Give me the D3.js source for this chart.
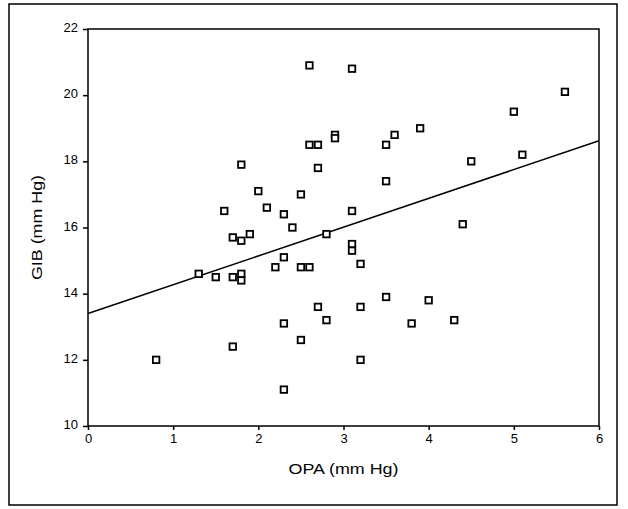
<!DOCTYPE html>
<html>
<head>
<meta charset="utf-8">
<script src="https://cdn.jsdelivr.net/npm/d3@7"></script>
<style>
    body { margin: 0; background: #fff; }
    svg text { font-family: "Liberation Sans", Arial, sans-serif; fill: #000; }
</style>
</head>
<body>
<svg id="chart" width="628" height="509"></svg>
<script>
/* Data */
var opa = [0.8, 1.3, 1.5, 1.6, 1.7, 1.7, 1.7, 1.8, 1.8, 1.8, 1.8, 1.9, 2.0, 2.1, 2.2,
           2.3, 2.3, 2.3, 2.3, 2.4, 2.5, 2.5, 2.5, 2.6, 2.6, 2.6, 2.7, 2.7, 2.7, 2.8,
           2.8, 2.9, 2.9, 3.1, 3.1, 3.1, 3.1, 3.2, 3.2, 3.2, 3.5, 3.5, 3.5, 3.6, 3.8,
           3.9, 4.0, 4.3, 4.4, 4.5, 5.0, 5.1, 5.6];
var gib = [12.0, 14.6, 14.5, 16.5, 15.7, 14.5, 12.4, 17.9, 15.6, 14.6, 14.4, 15.8, 17.1, 16.6, 14.8,
           16.4, 15.1, 13.1, 11.1, 16.0, 17.0, 14.8, 12.6, 20.9, 18.5, 14.8, 18.5, 17.8, 13.6, 15.8,
           13.2, 18.8, 18.7, 20.8, 16.5, 15.5, 15.3, 14.9, 13.6, 12.0, 18.5, 17.4, 13.9, 18.8, 13.1,
           19.0, 13.8, 13.2, 16.1, 18.0, 19.5, 18.2, 20.1];

// fitted regression line end points
var fitX = [0, 6];
var fitY = [13.4, 18.62];

var xTicks = [0, 1, 2, 3, 4, 5, 6];
var yTicks = [10, 12, 14, 16, 18, 20, 22];

var xTitle = 'OPA (mm Hg)';
var yTitle = 'GIB (mm Hg)';

/* Layout */
var svg = d3.select('#chart');
var plotLeft = 88, plotRight = 599, plotTop = 29, plotBottom = 426;

var x = d3.scaleLinear().domain([0, 6]).range([plotLeft, plotRight]);
var y = d3.scaleLinear().domain([10, 22]).range([plotBottom, plotTop]);

// outer frame
svg.append('rect')
    .attr('x', 9).attr('y', 4)
    .attr('width', 608).attr('height', 501)
    .attr('fill', 'none')
    .attr('stroke', '#000')
    .attr('stroke-width', 1.5);

// plot frame
svg.append('rect')
    .attr('x', plotLeft).attr('y', plotTop)
    .attr('width', plotRight - plotLeft).attr('height', plotBottom - plotTop)
    .attr('fill', 'none')
    .attr('stroke', '#000')
    .attr('stroke-width', 1.5);

// axes
var xAxis = svg.append('g')
    .attr('transform', 'translate(0,' + plotBottom + ')')
    .call(d3.axisBottom(x).tickValues(xTicks).tickFormat(d3.format('d')).tickSize(4).tickPadding(4));

var yAxis = svg.append('g')
    .attr('transform', 'translate(' + plotLeft + ',0)')
    .call(d3.axisLeft(y).tickValues(yTicks).tickFormat(d3.format('d')).tickSize(5).tickPadding(5));

[xAxis, yAxis].forEach(function (g) {
    g.select('.domain').remove();
    g.selectAll('.tick line').attr('stroke', '#000').attr('stroke-width', 1.5);
    g.selectAll('.tick text').attr('font-size', 13).style('font-family', '"Liberation Sans", Arial, sans-serif');
});
yAxis.selectAll('.tick text').attr('dy', '0.2em');

// regression line
svg.append('path')
    .datum(d3.zip(fitX, fitY))
    .attr('fill', 'none')
    .attr('stroke', '#000')
    .attr('stroke-width', 1.5)
    .attr('d', d3.line().x(function (d) { return x(d[0]); }).y(function (d) { return y(d[1]); }));

// points
var s = 6.5;
svg.append('g')
    .selectAll('rect')
    .data(d3.zip(opa, gib))
    .enter()
    .append('rect')
    .attr('x', function (d) { return x(d[0]) - s / 2; })
    .attr('y', function (d) { return y(d[1]) - s / 2; })
    .attr('width', s)
    .attr('height', s)
    .attr('fill', '#fff')
    .attr('stroke', '#000')
    .attr('stroke-width', 1.8);

// axis titles
svg.append('text')
    .attr('x', (plotLeft + plotRight) / 2)
    .attr('y', 474)
    .attr('text-anchor', 'middle')
    .attr('font-size', 14)
    .attr('textLength', 110)
    .attr('lengthAdjust', 'spacingAndGlyphs')
    .text(xTitle);

svg.append('text')
    .attr('transform', 'translate(42,' + y(16) + ') rotate(-90)')
    .attr('text-anchor', 'middle')
    .attr('font-size', 14)
    .attr('textLength', 105)
    .attr('lengthAdjust', 'spacingAndGlyphs')
    .text(yTitle);
</script>
</body>
</html>
